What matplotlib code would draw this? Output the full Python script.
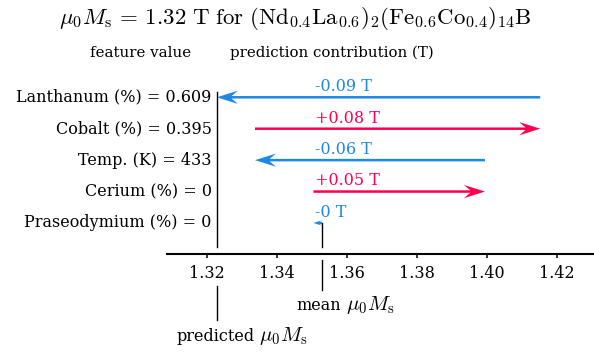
import matplotlib.pyplot as plt

plt.rcParams['font.family'] = 'DejaVu Serif'
plt.rcParams['mathtext.fontset'] = 'cm'

# feature rows, top to bottom
features = ['Lanthanum (%) = 0.609', 'Cobalt (%) = 0.395', 'Temp. (K) = 433',
            'Cerium (%) = 0', 'Praseodymium (%) = 0']
contrib = [-0.0924, 0.0815, -0.0657, 0.0490, -0.0024]
contrib_labels = ['-0.09 T', '+0.08 T', '-0.06 T', '+0.05 T', '-0 T']
mean_ms = 1.3529
xticks = [1.32, 1.34, 1.36, 1.38, 1.40, 1.42]
xticklabels = ['1.32', '1.34', '1.36', '1.38', '1.40', '1.42']

blue = '#1E88E5'
red = '#FF0051'
fs = 11.5

W, H = 594, 354
fig = plt.figure(figsize=(W / 100, H / 100), dpi=100)
ax = fig.add_axes([166.7 / W, 1 - 254 / H, 1 - 166.7 / W, (254 - 80) / H])
ax.set_xlim(1.30857, 1.43066)
ax.set_ylim(-0.987, 4.55)

n = len(features)
pred = mean_ms + sum(contrib)

# waterfall, starting from the mean at the bottom row
start = mean_ms
for i in range(n - 1, -1, -1):
    y = n - 1 - i
    dx = contrib[i]
    c = blue if dx < 0 else red
    hl = 0.006
    hw = 0.42
    if abs(dx) < hl:
        hw = hw * abs(dx) / hl
        hl = abs(dx)
    ax.arrow(start, y, dx, 0, width=0.08, head_width=hw, head_length=hl,
             overhang=0.3, length_includes_head=True, color=c, lw=0)
    ax.text(mean_ms - 0.0019, y + 0.34, contrib_labels[i], color=c,
            ha='left', va='center', fontsize=fs)
    ax.annotate(features[i], xy=(pred, y), xytext=(-3.6, 0), textcoords='offset points',
                ha='right', va='center', fontsize=fs, annotation_clip=False)
    start += dx

# predicted and mean markers
ax.plot([pred, pred], [4.18, -0.76], color='k', lw=1, clip_on=False)
ax.plot([pred, pred], [-2.02, -3.1], color='k', lw=1, clip_on=False)
ax.plot([mean_ms, mean_ms], [0, -0.76], color='k', lw=1, clip_on=False)
ax.plot([mean_ms, mean_ms], [-1.18, -2.13], color='k', lw=1, clip_on=False)


def word_and_math(word, math, x, y, off):
    # plain word in the text font, then the symbol in larger CM math
    t = ax.annotate(word, xy=(x, y), xytext=(off, 0), textcoords='offset points',
                    ha='left', va='baseline', fontsize=fs, annotation_clip=False)
    fig.canvas.draw()
    w = t.get_window_extent().width * 72 / fig.dpi
    ax.annotate(math, xy=(x, y), xytext=(off + w + 3, 0), textcoords='offset points',
                ha='left', va='baseline', fontsize=15, annotation_clip=False)


word_and_math('predicted', r'$\mu_0 M_\mathrm{s}$', pred, -3.74, -29)
word_and_math('mean', r'$\mu_0 M_\mathrm{s}$', mean_ms, -2.76, -18)

ax.set_xticks(xticks)
ax.set_xticklabels(xticklabels)
ax.set_yticks([])
for s in ['top', 'right', 'left']:
    ax.spines[s].set_visible(False)
ax.spines['bottom'].set_linewidth(1.5)
ax.tick_params(axis='x', direction='out', length=3, width=1.1, labelsize=fs, pad=5)

fig.text(0.497, 1 - 19 / H,
         r'$\mu_0 M_\mathrm{s}\, =\, 1.32\ \mathrm{T\ for}\ (\mathrm{Nd}_{0.4}\mathrm{La}_{0.6})_2'
         r'(\mathrm{Fe}_{0.6}\mathrm{Co}_{0.4})_{14}\mathrm{B}$',
         ha='center', va='center', fontsize=16.5)
fig.text(141 / W, 1 - 53 / H, 'feature value', ha='center', va='center', fontsize=10.8)
fig.text(230 / W, 1 - 53 / H, 'prediction contribution (T)', ha='left', va='center', fontsize=10.8)

fig.savefig('out.png', dpi=100)
